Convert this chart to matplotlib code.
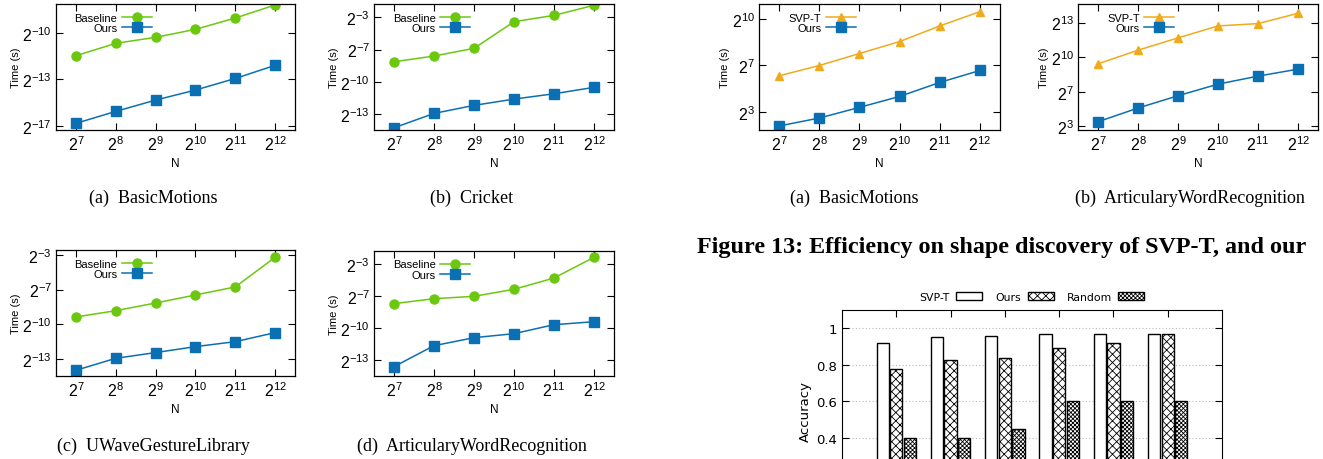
import matplotlib
matplotlib.use('Agg')
import matplotlib.pyplot as plt
import numpy as np

plt.rcParams['font.family'] = ['Liberation Sans', 'DejaVu Sans']
plt.rcParams['mathtext.fontset'] = 'custom'
plt.rcParams['mathtext.rm'] = 'Liberation Sans'
plt.rcParams['mathtext.it'] = 'Liberation Sans:italic'
plt.rcParams['mathtext.default'] = 'regular'
plt.rcParams['hatch.linewidth'] = 0.6

# ---- data: time (s) vs N ----
n_exp = [7, 8, 9, 10, 11, 12]
N = [2 ** e for e in n_exp]

bm_base = [3.20e-4, 5.92e-4, 7.96e-4, 1.18e-3, 2.07e-3, 3.94e-3]
bm_ours = [1.13e-5, 2.04e-5, 3.57e-5, 5.86e-5, 1.04e-4, 1.99e-4]
cr_base = [4.18e-3, 6.28e-3, 1.09e-2, 7.29e-2, 0.115, 0.236]
cr_ours = [3.73e-5, 1.04e-4, 1.85e-4, 2.90e-4, 4.24e-4, 6.70e-4]
uw_base = [1.64e-3, 2.48e-3, 4.12e-3, 6.98e-3, 1.19e-2, 8.39e-2]
uw_ours = [4.85e-5, 1.07e-4, 1.56e-4, 2.31e-4, 3.21e-4, 5.82e-4]
aw_base = [5.90e-3, 8.45e-3, 1.00e-2, 1.66e-2, 3.74e-2, 0.166]
aw_ours = [6.34e-5, 2.87e-4, 5.10e-4, 6.81e-4, 1.30e-3, 1.61e-3]

# Figure 13: shape discovery
bm_svpt = [59.8, 99.8, 181.6, 329.6, 717.8, 1462]
bm_ours13 = [4.91, 7.29, 12.4, 21.4, 43.0, 78.0]
aw_svpt = [642.7, 1592, 3614, 8017, 9354, 18578]
aw_ours13 = [13.6, 33.8, 76.7, 166.3, 283.1, 450.8]

# accuracy bars
acc_svpt = [0.917, 0.950, 0.958, 0.965, 0.965, 0.965]
acc_ours = [0.777, 0.823, 0.838, 0.891, 0.918, 0.965]
acc_rand = [0.40, 0.40, 0.45, 0.60, 0.60, 0.60]

GREEN = '#6cc80f'
BLUE = '#0b6fb3'
ORANGE = '#f0ab1c'

W, H = 1323, 460
fig = plt.figure(figsize=(W / 100, H / 100), dpi=100)


def px_axes(l, t, r, b):
    return fig.add_axes([l / W, 1 - b / H, (r - l) / W, (b - t) / H])


def line_panel(box, s1, s2, lab1, col1, mk1, ylog, decades):
    ax = px_axes(*box)
    ax.plot(N, s1, color=col1, marker=mk1, ms=6.5 if mk1 == 'o' else 5.5, lw=1.1, label=lab1)
    ax.plot(N, s2, color=BLUE, marker='s', ms=7, lw=1.1, label='Ours')
    ax.set_xscale('log', base=2)
    ax.set_yscale('log')
    ax.set_xlim(2 ** 6.5, 2 ** 12.5)
    ax.set_ylim(10 ** ylog[0], 10 ** ylog[1])
    ax.set_xticks(N)
    ax.set_xticklabels([r'$2^{%d}$' % e for e in n_exp], fontsize=11.5)
    ax.set_yticks([10.0 ** d for d in decades])
    ax.set_yticklabels([r'$2^{%d}$' % int(round(d * np.log2(10))) for d in decades], fontsize=11.5)
    ax.minorticks_off()
    ax.tick_params(direction='in', length=5, width=0.8, top=True, right=True, pad=3)
    ax.set_xlabel('N', fontsize=8.5, labelpad=3)
    ax.set_ylabel('Time (s)', fontsize=8, labelpad=1)
    for sp in ax.spines.values():
        sp.set_linewidth(0.9)
    ax.legend(loc='upper right', bbox_to_anchor=(0.41, 0.95), frameon=False,
              markerfirst=False, fontsize=8, handlelength=2.7, handletextpad=0.4,
              labelspacing=0.05, borderpad=0.2, borderaxespad=0)
    return ax


line_panel((56, 5, 295, 131), bm_base, bm_ours, 'Baseline', GREEN, 'o', (-5.09, -2.383), [-3, -4, -5])
line_panel((374, 5, 614, 131), cr_base, cr_ours, 'Baseline', GREEN, 'o', (-4.497, -0.587), [-1, -2, -3, -4])
line_panel((56, 251, 295, 377), uw_base, uw_ours, 'Baseline', GREEN, 'o', (-4.478, -0.866), [-1, -2, -3, -4])
line_panel((374, 252, 614, 377), aw_base, aw_ours, 'Baseline', GREEN, 'o', (-4.49, -0.583), [-1, -2, -3, -4])
line_panel((759, 5, 1000, 131), bm_svpt, bm_ours13, 'SVP-T', ORANGE, '^', (0.604, 3.331), [1, 2, 3])
line_panel((1078, 5, 1318, 131), aw_svpt, aw_ours13, 'SVP-T', ORANGE, '^', (0.894, 4.538), [1, 2, 3, 4])

# sub-captions
serif = ['Liberation Serif', 'DejaVu Serif']
caps = [(153, 198, '(a)  BasicMotions'), (472, 198, '(b)  Cricket'),
        (153, 446, '(c)  UWaveGestureLibrary'), (472, 446, '(d)  ArticularyWordRecognition'),
        (854, 198, '(a)  BasicMotions'), (1190, 198, '(b)  ArticularyWordRecognition')]
for x, y, t in caps:
    fig.text(x / W, 1 - y / H, t, ha='center', va='center', fontsize=13, family=serif)

fig.text(697 / W, 1 - 248 / H, 'Figure 13: Efficiency on shape discovery of SVP-T, and our',
         ha='left', va='center', fontsize=17.4, fontweight='bold', family=serif)

# accuracy bar chart (extends below the page crop)
axb = px_axes(842, 310.65, 1222, 512.5)
x = np.arange(len(acc_svpt))
bw = 0.225
axb.bar(x - 0.25, acc_svpt, bw, color='white', edgecolor='black', lw=1, label='SVP-T')
axb.bar(x, acc_ours, bw, color='white', edgecolor='black', lw=1, hatch='xxxx', label='Ours')
axb.bar(x + 0.25, acc_rand, bw, color='white', edgecolor='black', lw=1, hatch='xxxxxxxx', label='Random')
axb.set_xlim(-1, 6)
axb.set_ylim(0, 1.1)
axb.set_yticks([0.4, 0.6, 0.8, 1.0])
axb.set_yticklabels(['0.4', '0.6', '0.8', '1'], fontsize=9.5, family='DejaVu Sans')
axb.set_xticks(x)
axb.set_xticklabels([])
axb.tick_params(direction='in', length=5, width=0.8, top=True, right=True)
axb.grid(axis='y', color='#bbbbbb', ls=(0, (1, 2)), lw=0.8)
axb.set_axisbelow(True)
axb.set_ylabel('Accuracy', fontsize=9.5, family='DejaVu Sans', labelpad=3)
axb.legend(loc='lower center', bbox_to_anchor=(0.5, 1.0), ncol=3, frameon=False,
           markerfirst=False, prop={'family': 'DejaVu Sans', 'size': 7.8},
           handlelength=2.4, handleheight=0.7, handletextpad=0.6, columnspacing=1.2,
           borderaxespad=0.3)

fig.savefig('out.png', dpi=100)
